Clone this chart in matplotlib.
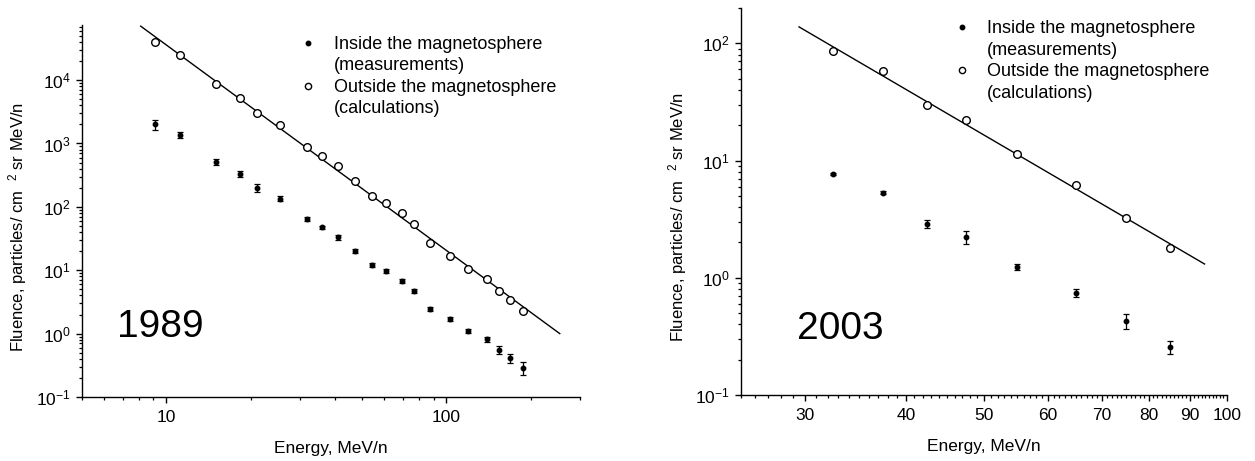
import matplotlib
matplotlib.use("Agg")
import matplotlib.pyplot as plt
from matplotlib.lines import Line2D
from matplotlib.ticker import LogLocator, NullFormatter, FixedLocator

plt.rcParams['font.family'] = ['Liberation Sans', 'DejaVu Sans']
plt.rcParams['axes.unicode_minus'] = False
plt.rcParams['mathtext.default'] = 'regular'

# ---------------- data ----------------
# 1989 event
energy_1989 = [9.1, 11.2, 15.0, 18.4, 21.1, 25.4, 31.9, 36.1, 41.1, 47.2, 54.2,
               60.8, 69.7, 76.7, 87.1, 103, 119, 140, 154.5, 169, 187.5]
inside_1989 = [2000, 1350, 510, 335, 200, 135, 64, 47.5, 33, 20, 12,
               9.7, 6.8, 4.7, 2.45, 1.7, 1.1, 0.82, 0.55, 0.41, 0.29]
inside_err_1989 = [340, 150, 50, 35, 28, 12, 5, 3, 2.5, 1.5, 0.8,
                   0.7, 0.5, 0.35, 0.15, 0.12, 0.08, 0.07, 0.08, 0.06, 0.065]
outside_1989 = [39500, 24800, 8640, 5250, 2980, 1945, 875, 637, 437, 253, 149,
                117, 80, 53, 26.6, 17.0, 10.3, 7.36, 4.69, 3.34, 2.24]
fit_x_1989 = [8.1, 254]
fit_y_1989 = [7.1e4, 1.0]
xticks_1989 = [10, 100]
xticklabels_1989 = ['10', '100']

# 2003 event
energy_2003 = [32.5, 37.5, 42.5, 47.5, 55, 65, 75, 85]
inside_2003 = [7.66, 5.32, 2.89, 2.24, 1.24, 0.745, 0.428, 0.257]
inside_err_2003 = [0.2, 0.18, 0.23, 0.28, 0.075, 0.06, 0.06, 0.032]
outside_2003 = [86.6, 57.7, 29.7, 22.0, 11.3, 6.17, 3.24, 1.78]
fit_x_2003 = [29.5, 93.8]
fit_y_2003 = [138, 1.31]

xticks_2003 = [30, 40, 50, 60, 70, 80, 90, 100]
xticklabels_2003 = ['30', '40', '50', '60', '70', '80', '90', '100']
xminor_2003 = [v for v in range(25, 101) if v not in xticks_2003]

legend_labels = ['Inside the magnetosphere', '(measurements)',
                 'Outside the magnetosphere', '(calculations)']
xlabel = 'Energy, MeV/n'
ylabel = 'Fluence, particles/ cm  $^{2}$ sr MeV/n'

# ---------------- figure ----------------
W, H = 1255, 461
fig = plt.figure(figsize=(W / 100, H / 100), dpi=100)

def px_axes(l, t, r, b):
    return fig.add_axes([l / W, 1 - b / H, (r - l) / W, (b - t) / H])

axL = px_axes(82, 25, 580, 397)
axR = px_axes(741, 8, 1227, 395)

FS = 12.5
YFS = 12

def style(ax):
    for s in ['top', 'right']:
        ax.spines[s].set_visible(False)
    for s in ['left', 'bottom']:
        ax.spines[s].set_linewidth(1.0)
    ax.tick_params(which='major', direction='out', length=4.3, width=1.0,
                   labelsize=FS)
    ax.tick_params(which='minor', direction='out', length=2.3, width=0.9)
    ax.tick_params(axis='x', which='major', pad=5)
    ax.tick_params(axis='y', which='major', pad=4)
    ax.yaxis.set_minor_locator(LogLocator(base=10, subs=range(2, 10), numticks=20))
    ax.yaxis.set_minor_formatter(NullFormatter())
    ax.yaxis.set_major_locator(LogLocator(base=10, numticks=20))

def draw(ax, x, yin, yerr, yout, fx, fy):
    ax.plot(fx, fy, color='black', lw=1.0)
    ax.errorbar(x, yin, yerr=yerr, fmt='o', color='black', ms=3.2,
                elinewidth=0.9, capsize=2.2, capthick=0.9)
    ax.plot(x, yout, 'o', mfc='white', mec='black', mew=1.0, ms=5.5, ls='none')

# left panel
draw(axL, energy_1989, inside_1989, inside_err_1989, outside_1989,
     fit_x_1989, fit_y_1989)
axL.set_xscale('log')
axL.set_yscale('log')
axL.set_xlim(5, 300)
axL.set_ylim(0.1, 7.4e4)
style(axL)
axL.xaxis.set_major_locator(FixedLocator(xticks_1989))
axL.set_xticklabels(xticklabels_1989)
axL.xaxis.set_minor_formatter(NullFormatter())
axL.set_xlabel(xlabel, fontsize=FS)
axL.set_ylabel(ylabel, fontsize=YFS)
axL.xaxis.set_label_coords(0.5, -0.118)
axL.yaxis.set_label_coords(-0.107, 0.458)
axL.text(0.0703, 0.161, '1989', transform=axL.transAxes, fontsize=28,
         va='baseline', ha='left')

# right panel
draw(axR, energy_2003, inside_2003, inside_err_2003, outside_2003,
     fit_x_2003, fit_y_2003)
axR.set_xscale('log')
axR.set_yscale('log')
axR.set_xlim(25, 100)
axR.set_ylim(0.1, 200)
style(axR)
axR.xaxis.set_major_locator(FixedLocator(xticks_2003))
axR.set_xticklabels(xticklabels_2003)
axR.xaxis.set_minor_locator(FixedLocator(xminor_2003))
axR.xaxis.set_minor_formatter(NullFormatter())
axR.set_xlabel(xlabel, fontsize=FS)
axR.set_ylabel(ylabel, fontsize=YFS)
axR.xaxis.set_label_coords(0.5, -0.114)
axR.yaxis.set_label_coords(-0.107, 0.461)
axR.text(0.115, 0.1447, '2003', transform=axR.transAxes, fontsize=28,
         va='baseline', ha='left')

# legends
def make_legend(ax, x0, y0, tpad):
    h_in = Line2D([], [], marker='o', color='black', ms=3.2, ls='none')
    h_out = Line2D([], [], marker='o', mfc='white', mec='black', mew=1.0,
                   ms=4.5, ls='none')
    h_none = Line2D([], [], ls='none')
    ax.legend([h_in, h_none, h_out, h_none], legend_labels,
              loc='upper left', bbox_to_anchor=(x0, y0), frameon=False,
              fontsize=13, handlelength=1.0, handletextpad=tpad,
              borderpad=0, borderaxespad=0, labelspacing=0.25)

make_legend(axL, 0.4364, 0.9707, 0.94)
make_legend(axR, 0.4368, 0.968, 0.85)

fig.savefig('out.png', dpi=100)
